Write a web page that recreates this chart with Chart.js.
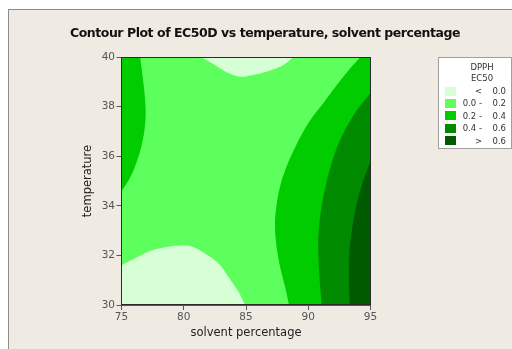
<!DOCTYPE html>
<html>
<head>
<meta charset="utf-8">
<script src="https://cdn.jsdelivr.net/npm/chart.js@4.4.1/dist/chart.umd.min.js"></script>
<style>
  html, body { margin: 0; padding: 0; width: 512px; height: 349px; overflow: hidden; background: #ffffff; font-family: "DejaVu Sans", sans-serif; }
  #frame { position: absolute; left: 8px; top: 9px; width: 620px; height: 420px; background: #efebe2; border-left: 1px solid #8c8c8c; border-top: 1px solid #8c8c8c; }
  #chart { position: absolute; left: 0; top: 0; }
  #title { position: absolute; left: 0; top: 25px; width: 530px; text-align: center; font-family: "DejaVu Sans", sans-serif; font-weight: bold; font-size: 12.5px; line-height: 16px; color: #111; white-space: nowrap; }
  #legend { position: absolute; left: 438px; top: 57px; width: 72px; height: 90px; background: #ffffff; border: 1px solid #a0a0a0; color: #333; font-size: 8.5px; }
  #legend div { position: absolute; white-space: nowrap; line-height: 10px; }
  #legend .sw { width: 11px; height: 9px; left: 6px; }
</style>
</head>
<body>
<div id="frame"></div>
<canvas id="chart" width="512" height="349"></canvas>
<div id="title">Contour Plot of EC50D vs temperature, solvent percentage</div>
<div id="legend"></div>
<script>
// ---- data -------------------------------------------------------------
const solventLimits = [75, 95];
const temperatureLimits = [30, 40];
const solventTicks = [75, 80, 85, 90, 95];
const temperatureTicks = [30, 32, 34, 36, 38, 40];

const legendHeader = ['DPPH', 'EC50'];
const levelLabels = [['<', '0.0'], ['0.0 -', '0.2'], ['0.2 -', '0.4'], ['0.4 -', '0.6'], ['>', '0.6']];
const levelColors = ['#d6ffd6', '#5dff5d', '#00cc00', '#008a00', '#005a00'];

// contour lines as [solvent percentage, temperature]
const contour00Top = [[81.4, 40], [82.5, 39.68], [83.6, 39.35], [84.6, 39.2], [85.3, 39.25], [86.7, 39.42], [88.0, 39.68], [88.8, 40]];
const contour00Bottom = [[75, 31.6], [75.8, 31.81], [77.15, 32.15], [78.5, 32.33], [79.84, 32.4], [80.64, 32.36], [81.7, 32.08], [82.78, 31.68], [83.58, 31.14], [84.38, 30.54], [84.92, 30]];
const contour02Left = [[76.5, 40], [76.75, 39], [76.92, 38.1], [76.9, 37.3], [76.6, 36.4], [76.1, 35.6], [75.6, 35.05], [75, 34.6]];
const contour02Right = [[94.2, 40], [93.3, 39.5], [92.4, 38.94], [91.3, 38.2], [90.3, 37.55], [89.5, 36.9], [88.8, 36.2], [88.2, 35.5], [87.75, 34.8], [87.45, 34.0], [87.33, 33.3], [87.4, 32.6], [87.6, 31.9], [87.9, 31.2], [88.2, 30.6], [88.45, 30]];
const contour04 = [[95, 38.55], [94.2, 38.05], [93.4, 37.45], [92.75, 36.85], [92.2, 36.2], [91.75, 35.5], [91.4, 34.8], [91.1, 34.05], [90.9, 33.3], [90.8, 32.5], [90.85, 31.6], [90.95, 30.8], [91.08, 30]];
const contour06 = [[95, 35.8], [94.7, 35.4], [94.35, 34.9], [94.0, 34.3], [93.7, 33.6], [93.45, 32.8], [93.3, 32.0], [93.27, 31.2], [93.3, 30.5], [93.35, 30]];

// ---- region building ---------------------------------------------------
// a contour ends on the frame; carry it a little past the frame and close
// it round the outside so the smoothed fill only shows inside the plot
function past(a, b) { return [b[0] + (b[0] - a[0]), b[1] + (b[1] - a[1])]; }
function region(line, outside) {
  const n = line.length;
  const pts = [past(line[1], line[0])].concat(line, [past(line[n - 2], line[n - 1])], outside);
  return pts.map(p => ({ x: p[0], y: p[1] }));
}
const [x0, x1] = solventLimits, [y0, y1] = temperatureLimits;
const far = 2;

const layers = [
  { color: levelColors[1], tension: 0, pts: [[x0, y0], [x0, y1], [x1, y1], [x1, y0]].map(p => ({ x: p[0], y: p[1] })) },
  { color: levelColors[2], tension: 0.4, pts: region(contour02Right, [[x1 + far, y0 - far], [x1 + far, y1 + far]]) },
  { color: levelColors[3], tension: 0.4, pts: region(contour04, [[x1 + far, y0 - far], [x1 + far, y1 + far]]) },
  { color: levelColors[4], tension: 0.4, pts: region(contour06, [[x1 + far, y0 - far], [x1 + far, y1 + far]]) },
  { color: levelColors[2], tension: 0.4, pts: region(contour02Left, [[x0 - far, y1 + far]]) },
  { color: levelColors[0], tension: 0.4, pts: region(contour00Top, []) },
  { color: levelColors[0], tension: 0.4, pts: region(contour00Bottom, [[x0 - far, y0 - far]]) }
];

const datasets = layers.map((l, i) => ({
  data: l.pts,
  showLine: true,
  fill: 'shape',
  backgroundColor: l.color,
  borderColor: 'rgba(0,0,0,0)',
  borderWidth: 0,
  pointRadius: 0,
  pointHoverRadius: 0,
  tension: l.tension,
  capBezierPoints: false,
  order: layers.length - i
}));

const plotFrame = {
  id: 'plotFrame',
  afterDatasetsDraw(chart) {
    const a = chart.chartArea, ctx = chart.ctx;
    ctx.save();
    ctx.strokeStyle = '#2a2a2a';
    ctx.lineWidth = 1;
    ctx.strokeRect(Math.round(a.left) + 0.5 - 1, Math.round(a.top) + 0.5, Math.round(a.right - a.left), Math.round(a.bottom - a.top) - 1);
    ctx.restore();
  }
};

const tickFont = { family: 'DejaVu Sans', size: 10.5 };
const titleFont = { family: 'DejaVu Sans', size: 11.5 };

new Chart(document.getElementById('chart'), {
  type: 'scatter',
  data: { datasets },
  plugins: [plotFrame],
  options: {
    responsive: false,
    animation: false,
    events: [],
    devicePixelRatio: 1,
    layout: { padding: { left: 0, top: 57, right: 141.5, bottom: 0 } },
    plugins: { legend: { display: false }, tooltip: { enabled: false }, title: { display: false } },
    scales: {
      x: {
        type: 'linear', min: x0, max: x1,
        afterBuildTicks: s => { s.ticks = solventTicks.map(v => ({ value: v })); },
        afterFit: s => { s.height = 44; },
        ticks: { font: tickFont, color: '#555', padding: 1 },
        grid: { display: true, drawOnChartArea: false, tickLength: 5, tickColor: '#555' },
        border: { display: true, color: '#555' },
        title: { display: true, text: 'solvent percentage', font: titleFont, color: '#222', padding: { top: 0, bottom: 9 } }
      },
      y: {
        type: 'linear', min: y0, max: y1,
        afterBuildTicks: s => { s.ticks = temperatureTicks.map(v => ({ value: v })); },
        afterFit: s => { s.width = 121.5; },
        ticks: { font: tickFont, color: '#555', padding: 1.5 },
        grid: { display: true, drawOnChartArea: false, tickLength: 5, tickColor: '#555' },
        border: { display: true, color: '#555' },
        title: { display: true, text: 'temperature', font: titleFont, color: '#222', padding: { top: 81, bottom: 0 } }
      }
    }
  }
});

// ---- title width: tighten the spacing so the line spans 390px ------------
const titleEl = document.getElementById('title');
const meas = document.createElement('canvas').getContext('2d');
meas.font = 'bold 12.5px "DejaVu Sans"';
const text = titleEl.textContent;
const tw = meas.measureText(text).width;
titleEl.style.letterSpacing = ((390 - tw) / text.length).toFixed(3) + 'px';

// ---- legend -------------------------------------------------------------
const legend = document.getElementById('legend');
function put(str, css) {
  const d = document.createElement('div');
  d.textContent = str;
  Object.assign(d.style, css);
  legend.appendChild(d);
  return d;
}
legendHeader.forEach((t, i) => put(t, { left: '0', width: '86px', textAlign: 'center', top: (4 + i * 11) + 'px' }));
levelLabels.forEach((lab, i) => {
  const top = 28 + i * 12.4;
  const sw = put('', { top: (top + 0.5) + 'px' });
  sw.className = 'sw';
  sw.style.background = levelColors[i];
  put(lab[0], { right: '29px', top: top + 'px', textAlign: 'right' });
  put(lab[1], { right: '5px', top: top + 'px', textAlign: 'right' });
});
</script>
</body>
</html>
